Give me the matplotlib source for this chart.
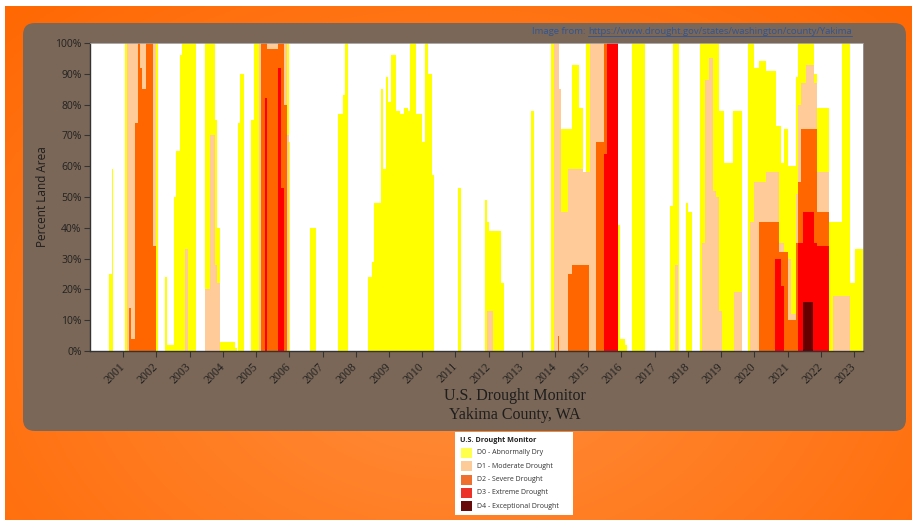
import numpy as np
import matplotlib.pyplot as plt
from matplotlib.patches import FancyBboxPatch, Rectangle

# U.S. Drought Monitor, Yakima County WA - cumulative percent of land area.
# Each category is a step series: value holds from its date until the next one.
d0_dates = [2000.00, 2000.58, 2000.65, 2000.70, 2001.05, 2002.05, 2002.27, 2002.32, 2002.52, 2002.58,
            2002.70, 2002.78, 2003.20, 2003.47, 2003.75, 2003.82, 2003.90, 2004.35, 2004.42, 2004.45,
            2004.53, 2004.63, 2004.85, 2004.95, 2005.98, 2006.03, 2006.63, 2006.80, 2007.47, 2007.61,
            2007.67, 2007.76, 2008.37, 2008.50, 2008.56, 2008.77, 2008.82, 2008.90, 2008.97, 2009.07,
            2009.22, 2009.32, 2009.44, 2009.57, 2009.64, 2009.82, 2009.99, 2010.07, 2010.19, 2010.29,
            2010.37, 2011.09, 2011.16, 2011.90, 2011.96, 2012.00, 2012.37, 2012.47, 2013.27, 2013.37,
            2013.89, 2014.12, 2014.17, 2014.51, 2014.71, 2014.83, 2014.93, 2015.89, 2015.96, 2016.11,
            2016.17, 2016.33, 2016.71, 2017.46, 2017.54, 2017.73, 2017.94, 2017.99, 2018.13, 2018.37,
            2018.95, 2019.08, 2019.35, 2019.62, 2019.80, 2020.00, 2020.15, 2020.35, 2020.65, 2020.80,
            2020.90, 2021.00, 2021.25, 2021.30, 2021.80, 2021.90, 2022.24, 2022.64, 2022.89, 2023.02,
            2023.27]
d0_vals = [0, 25, 59, 0, 100, 0, 24, 2, 50, 65,
           96, 100, 0, 100, 75, 40, 3, 1, 0, 74,
           90, 0, 75, 100, 68, 0, 40, 0, 77, 83,
           100, 0, 24, 29, 48, 85, 59, 89, 81, 96,
           78, 77, 79, 78, 100, 77, 68, 100, 90, 57,
           0, 53, 0, 49, 42, 39, 22, 0, 78, 0,
           100, 85, 72, 93, 79, 58, 100, 41, 4, 2,
           0, 100, 0, 47, 100, 0, 48, 45, 0, 100,
           78, 61, 78, 0, 100, 92, 94, 91, 73, 61,
           72, 60, 89, 100, 90, 79, 42, 100, 22, 33,
           33]

d1_dates = [2000.00, 2001.12, 2002.00, 2002.85, 2002.95, 2003.47, 2003.60, 2003.75, 2003.82, 2003.90,
            2005.10, 2005.92, 2005.98, 2011.96, 2012.14, 2013.97, 2014.12, 2014.17, 2014.39, 2014.83,
            2015.06, 2015.89, 2017.60, 2017.70, 2018.43, 2018.52, 2018.62, 2018.75, 2018.83, 2018.93,
            2019.04, 2019.38, 2019.62, 2019.88, 2020.00, 2020.35, 2020.75, 2020.90, 2021.00, 2021.10,
            2021.25, 2021.30, 2021.40, 2021.55, 2021.80, 2021.90, 2022.24, 2022.38, 2022.89, 2023.27]
d1_vals = [0, 100, 0, 33, 0, 20, 70, 28, 22, 0,
           100, 70, 0, 13, 0, 100, 85, 45, 59, 58,
           100, 0, 28, 0, 35, 88, 95, 52, 50, 13,
           0, 19, 0, 42, 55, 58, 35, 32, 30, 12,
           51, 80, 87, 93, 87, 58, 0, 18, 0, 0]

d2_dates = [2000.00, 2001.17, 2001.23, 2001.35, 2001.45, 2001.50, 2001.58, 2001.68, 2001.90, 2002.00,
            2005.15, 2005.33, 2005.66, 2005.84, 2005.92, 2014.08, 2014.12, 2014.39, 2014.51, 2015.01,
            2015.23, 2015.47, 2015.89, 2020.15, 2020.75, 2021.00, 2021.25, 2021.30, 2021.40, 2021.90,
            2022.24, 2023.27]
d2_vals = [0, 14, 4, 74, 100, 92, 85, 100, 34, 0,
           100, 98, 100, 80, 0, 5, 0, 25, 28, 0,
           68, 100, 0, 42, 32, 10, 35, 55, 72, 45,
           0, 0]

d3_dates = [2000.00, 2005.26, 2005.33, 2005.66, 2005.76, 2005.84, 2015.47, 2015.55, 2015.89, 2020.62,
            2020.80, 2020.90, 2021.30, 2021.46, 2021.80, 2021.90, 2022.24, 2023.27]
d3_vals = [0, 82, 0, 92, 53, 0, 64, 100, 0, 30,
           21, 0, 35, 45, 35, 34, 0, 0]

d4_dates = [2000.00, 2021.46, 2021.75, 2023.27]
d4_vals = [0, 16, 0, 0]

categories = ['D0 - Abnormally Dry', 'D1 - Moderate Drought', 'D2 - Severe Drought',
              'D3 - Extreme Drought', 'D4 - Exceptional Drought']
fill_colors = ['#ffff00', '#ffcc99', '#ff6600', '#ff0000', '#660000']
legend_colors = ['#ffff4d', '#fccb98', '#ef6f2e', '#ec3228', '#680a0a']
years = list(range(2001, 2024))
pct_ticks = list(range(0, 101, 10))

W, H = 917, 520
fig = plt.figure(figsize=(W / 100, H / 100), dpi=100)
fig.patch.set_facecolor('white')

# backdrop axis, works in image pixels (y down)
bg = fig.add_axes([0, 0, 1, 1])
gy, gx = np.mgrid[0:1:260j, 0:1:460j]
r = np.clip(np.hypot((gx - 0.5) / 0.75, (gy - 0.65) / 0.95), 0, 1)
c_in = np.array([1.0, 0.56, 0.24])
c_out = np.array([1.0, 0.40, 0.0])
bg.imshow(c_in + (c_out - c_in) * r[..., None], extent=(5, 912, 520, 6), aspect='auto', zorder=0)
bg.set_xlim(0, W)
bg.set_ylim(H, 0)
bg.axis('off')

bg.add_patch(FancyBboxPatch((23, 23), 883, 408, boxstyle='round,pad=0,rounding_size=12',
                            fc='#7a6757', ec='none', zorder=1))

# chart titles under the axis
bg.text(515, 396, 'U.S. Drought Monitor', ha='center', va='center', fontsize=11.5,
        family='Liberation Serif', color='#1e1e1e', zorder=2)
bg.text(515, 415, 'Yakima County, WA', ha='center', va='center', fontsize=11.5,
        family='Liberation Serif', color='#1e1e1e', zorder=2)
bg.text(43, 197, 'Percent Land Area', rotation=90, ha='center', va='center', fontsize=8.5,
        family='Open Sans', color='#1e1e1e', zorder=2)

# source link, top right
t1 = bg.text(532, 32, 'Image from: ', ha='left', va='center', fontsize=6.8,
             family='Open Sans', color='#2e5597', zorder=2)
fig.canvas.draw()
bb = t1.get_window_extent()
t2 = bg.text(bb.x1, 32, 'https://www.drought.gov/states/washington/county/Yakima', ha='left',
             va='center', fontsize=6.8, family='Open Sans', color='#2e5597', zorder=2)
fig.canvas.draw()
bb2 = t2.get_window_extent()
bg.plot([bb2.x0, bb2.x1], [H - bb2.y0 - 0.5, H - bb2.y0 - 0.5], color='#2e5597', lw=0.6, zorder=2)

# legend box
bg.add_patch(Rectangle((455, 432), 118, 83, fc='white', ec='none', zorder=2))
bg.text(460, 440, 'U.S. Drought Monitor', ha='left', va='center', fontsize=5.2,
        family='Open Sans', weight='bold', color='#222', zorder=3)
for i, (lab, c) in enumerate(zip(categories, legend_colors)):
    y = 448 + 13.3 * i
    bg.add_patch(Rectangle((461, y), 11, 10, fc=c, ec='none', zorder=3))
    bg.text(477, y + 5, lab, ha='left', va='center', fontsize=5.0,
            family='Open Sans', color='#333', zorder=3)

# main chart
ax = fig.add_axes([90 / W, 1 - 351 / H, 773 / W, 308 / H])
ax.set_facecolor('white')
series = [(d0_dates, d0_vals), (d1_dates, d1_vals), (d2_dates, d2_vals),
          (d3_dates, d3_vals), (d4_dates, d4_vals)]
for (dts, vals), c in zip(series, fill_colors):
    ax.fill_between(dts, vals, step='post', color=c, linewidth=0)

ax.set_xlim(2000, 2023.27)
ax.set_ylim(0, 100)
ax.set_yticks(pct_ticks)
ax.set_yticklabels([f'{p}%' for p in pct_ticks], fontsize=7.5, family='Open Sans', color='#222')
ax.set_xticks(years)
ax.set_xticklabels([str(y) for y in years], rotation=45, ha='right', va='center',
                   rotation_mode='anchor', fontsize=8.5, family='Liberation Serif', color='#222')
ax.tick_params(axis='both', direction='out', length=4, width=0.8, color='#333')
ax.tick_params(axis='x', pad=6)
ax.tick_params(axis='y', pad=2)
for s in ['left', 'bottom']:
    ax.spines[s].set_color('#333')
    ax.spines[s].set_linewidth(1.0)
for s in ['top', 'right']:
    ax.spines[s].set_color('#999')
    ax.spines[s].set_linewidth(0.6)

plt.savefig('out.png', dpi=100)
